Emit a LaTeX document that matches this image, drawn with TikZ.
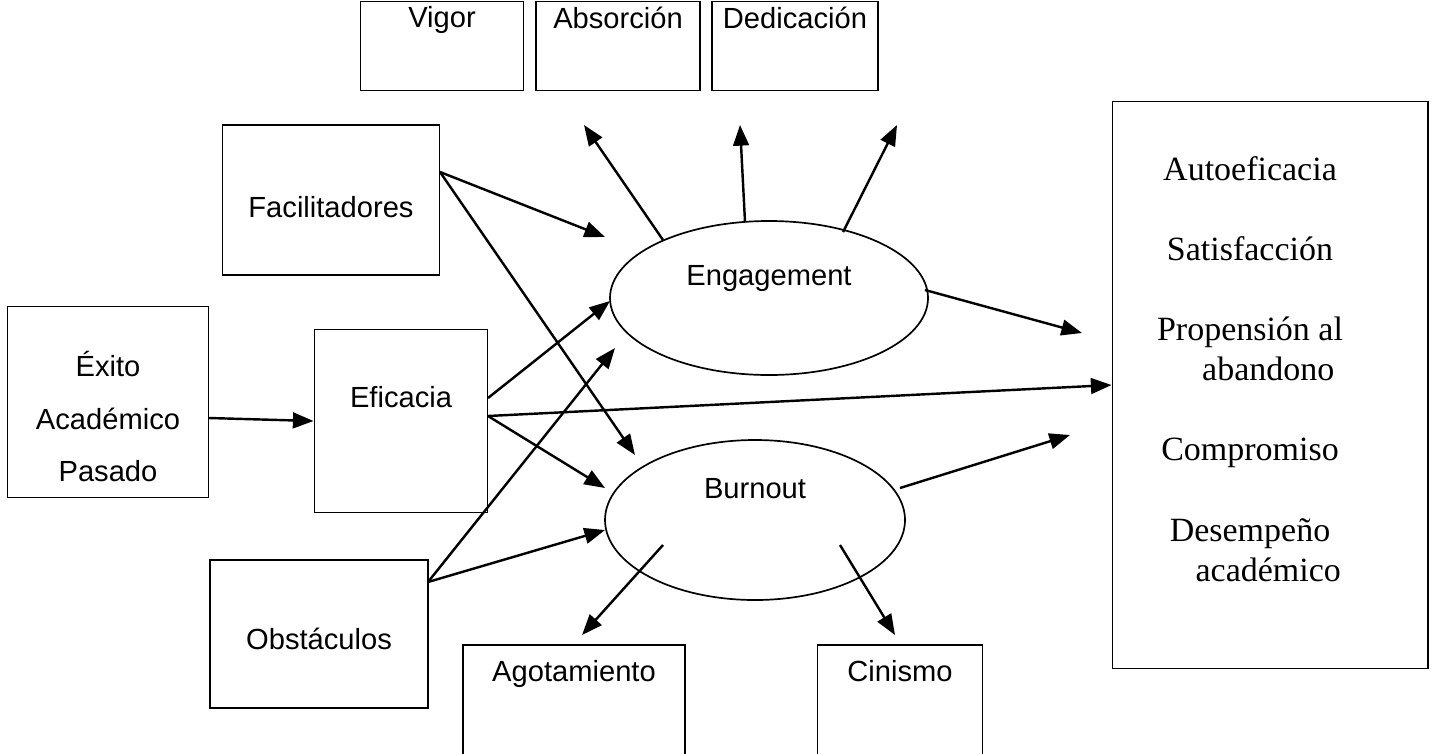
\documentclass[tikz,border=0pt]{standalone}
\usepackage{fontspec}
\setmainfont{Liberation Sans}
\newfontfamily\serifout{Liberation Serif}
\usetikzlibrary{arrows.meta, shapes.geometric, positioning}

\def\px{0.412pt}
\tikzset{
    base/.style={text centered, font=\fontsize{12}{14}\selectfont},
    box/.style={base, rectangle, draw, line width=0.8pt, inner sep=0pt, align=center},
    latent/.style={base, ellipse, draw, line width=0.7pt, inner sep=0pt},
    inlbl/.style={base, anchor=north, yshift=-1pt},
    arrow/.style={line width=1pt, -{Triangle[length=8.5pt, width=6.5pt]}}
}

\begin{document}
\begin{tikzpicture}[x=\px, y=-\px]
    \useasboundingbox (0,0) rectangle (1435,753);
    \clip (0,0) rectangle (1435,753);

    % -- Dimensiones --
    \node (vigor) [box, minimum width=163*\px, minimum height=89*\px, label={[inlbl, yshift=2pt]north:Vigor}] at (442,46) {};
    \node (absor) [box, minimum width=164*\px, minimum height=89*\px, label={[inlbl, yshift=2pt]north:Absorción}] at (618,46) {};
    \node (dedic) [box, minimum width=166*\px, minimum height=89*\px, label={[inlbl, yshift=2pt]north:Dedicación}] at (795,46) {};
    \node (agot) [box, minimum width=222*\px, minimum height=140*\px, label={[inlbl, yshift=-2pt]north:Agotamiento}] at (574,715) {};
    \node (cinis) [box, minimum width=165*\px, minimum height=140*\px, label={[inlbl, yshift=-2pt]north:Cinismo}] at (900,715) {};

    % -- Antecedentes --
    \node (facil) [box, minimum width=217*\px, minimum height=150*\px, label={[base, yshift=-3pt]center:Facilitadores}] at (331,200) {};
    \node (exito) [box, minimum width=201*\px, minimum height=191*\px, label={[base, align=center, yshift=-6pt]center:{Éxito\\[7.8pt]Académico\\[7.8pt]Pasado}}] at (108,402) {};
    \node (efic) [box, minimum width=173*\px, minimum height=183*\px, label={[base, yshift=10pt]center:Eficacia}] at (401,421) {};
    \node (obst) [box, minimum width=218*\px, minimum height=148*\px, label={[base, yshift=-2pt]center:Obstáculos}] at (319,634) {};

    % -- Estados --
    \node (eng) [latent, minimum width=318*\px, minimum height=154*\px, label={[base, yshift=8pt]center:Engagement}] at (769,298) {};
    \node (burn) [latent, minimum width=300*\px, minimum height=160*\px, label={[base, yshift=13pt]center:Burnout}] at (755,520) {};

    % -- Consecuencias --
    \node (out) [box, minimum width=315*\px, minimum height=567*\px] at (1270,385) {};
    \node (outTxt) [align=center, font=\serifout\fontsize{14}{16.5}\selectfont] at (1250,369)
        {Autoeficacia\\[16.5pt]Satisfacción\\[16.5pt]Propensión al\\\hspace*{15pt}abandono\\[16.5pt]Compromiso\\[16.5pt]Desempeño\\\hspace*{15pt}académico};

    % Puntos de los conectores
    \coordinate (engTL) at (663,240);
    \coordinate (engT) at (745,222);
    \coordinate (engTR) at (843,232);
    \coordinate (engR) at (925,290);
    \coordinate (burBL) at (663,545);
    \coordinate (burBR) at (840,545);
    \coordinate (burR) at (900,488);
    \coordinate (vigIn) at (584,125);
    \coordinate (absIn) at (740,125);
    \coordinate (dedIn) at (897,125);
    \coordinate (agoIn) at (582,635);
    \coordinate (cinIn) at (895,635);
    \coordinate (facOut) at (440,172);
    \coordinate (exiOut) at (209,418);
    \coordinate (effUp) at (488,398);
    \coordinate (effMid) at (488,416);
    \coordinate (obsOut) at (428,582);
    \coordinate (engA) at (605,237);
    \coordinate (engB) at (610,301);
    \coordinate (engC) at (615,348);
    \coordinate (burA) at (635,455);
    \coordinate (burB) at (605,488);
    \coordinate (burC) at (605,530);
    \coordinate (outA) at (1082,333);
    \coordinate (outB) at (1070,435);

    % Conectores
    \draw [arrow] (engTL) -- (vigIn);
    \draw [arrow] (engT) -- (absIn);
    \draw [arrow] (engTR) -- (dedIn);
    \draw [arrow] (burBL) -- (agoIn);
    \draw [arrow] (burBR) -- (cinIn);
    \draw [arrow] (facOut) -- (engA);
    \draw [arrow] (facOut) -- (burA);
    \draw [arrow] (exiOut) -- (efic.west);
    \draw [arrow] (effUp) -- (engB);
    \draw [arrow] (effMid) -- (out.west);
    \draw [arrow] (effMid) -- (burB);
    \draw [arrow] (obsOut) -- (engC);
    \draw [arrow] (obsOut) -- (burC);
    \draw [arrow] (engR) -- (outA);
    \draw [arrow] (burR) -- (outB);
\end{tikzpicture}
\end{document}
